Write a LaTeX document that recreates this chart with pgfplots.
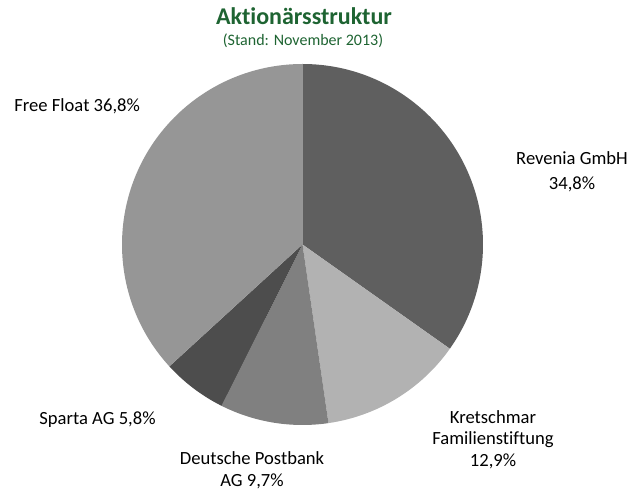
\documentclass[border=0pt]{standalone}
\usepackage{pgfplots}
\pgfplotsset{compat=1.18}
\usepackage{fontspec}
\setmainfont{Carlito}[Ligatures=NoCommon]

\definecolor{titlegreen}{HTML}{1E6432}
\definecolor{cRev}{HTML}{5F5F5F}
\definecolor{cKre}{HTML}{B2B2B2}
\definecolor{cPost}{HTML}{808080}
\definecolor{cSpa}{HTML}{4D4D4D}
\definecolor{cFree}{HTML}{969696}

% slice: {share before} {share} {colour}; 1 unit = 0.5pt, radius 180.5 units
\newcommand\slice[3]{%
  \fill[#3] (axis cs:302.5,248.5) -- ++({90-3.6*#1}:90.25pt)
    arc[start angle={90-3.6*#1}, delta angle={-3.6*#2}, radius=90.25pt] -- cycle;}

\begin{document}
\begin{tikzpicture}
\begin{axis}[
  width=317pt, height=246.5pt,
  scale only axis,
  xmin=0, xmax=634, ymin=0, ymax=493,
  axis lines=none,
  clip=false,
]
  \path (axis cs:0,0) rectangle (axis cs:634,493);
  % shares in percent, clockwise from 12 o'clock
  \slice{0}{34.8}{cRev}
  \slice{34.8}{12.9}{cKre}
  \slice{47.7}{9.7}{cPost}
  \slice{57.4}{5.8}{cSpa}
  \slice{63.2}{36.8}{cFree}

  \node[anchor=base, inner sep=0pt, font=\fontsize{12}{14}\selectfont\bfseries, text=titlegreen]
    at (axis cs:304,468) {Aktionärsstruktur};
  \node[anchor=base, inner sep=0pt, font=\fontsize{8}{10}\selectfont, text=titlegreen]
    at (axis cs:303,447) {(Stand: November 2013)};

  \begin{scope}[every node/.style={font=\fontsize{9.3}{11}\selectfont, anchor=base, inner sep=0pt}]
    \node[anchor=base west] at (axis cs:14,381) {Free Float 36,8\%};
    \node at (axis cs:572,328) {Revenia GmbH};
    \node at (axis cs:572,303) {34,8\%};
    \node at (axis cs:493,69) {Kretschmar};
    \node at (axis cs:493,48) {Familienstiftung};
    \node at (axis cs:493,26) {12,9\%};
    \node at (axis cs:252,28) {Deutsche Postbank};
    \node at (axis cs:252,6) {AG 9,7\%};
    \node at (axis cs:97.5,68) {Sparta AG 5,8\%};
  \end{scope}
\end{axis}
\end{tikzpicture}
\end{document}
